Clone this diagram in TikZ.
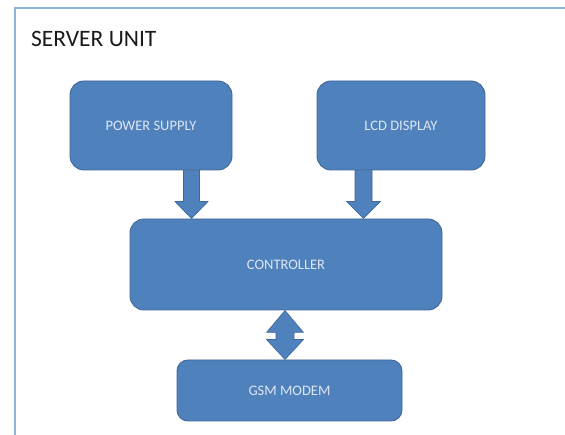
\documentclass[tikz,border=0pt]{standalone}
\usepackage{fontspec}
\setmainfont{Carlito}
\usetikzlibrary{calc}
\definecolor{boxfill}{HTML}{4F81BD}
\definecolor{boxline}{HTML}{3F6797}
\definecolor{boxtext}{HTML}{DCE6F2}
\definecolor{framecol}{HTML}{8DB3E2}
\definecolor{titlecol}{HTML}{1A1A1A}
\begin{document}
\begin{tikzpicture}[x=1pt,y=1pt,
  blockbox/.style={draw=boxline,line width=0.9pt,fill=boxfill,rounded corners=14pt,
    text=boxtext,font=\fontsize{14.5}{16}\selectfont,inner sep=0pt},
  fatarrow/.style={draw=boxline,line width=0.6pt,fill=boxfill,line join=miter}]
\useasboundingbox (0,0) rectangle (565,-435);
\fill[white] (0,0) rectangle (565,-435);
% frame
\draw[framecol,line width=1.6pt] (15,-445) -- (15,-8) -- (575,-8);
\node[anchor=base west,text=titlecol,font=\fontsize{23.5}{26}\selectfont,inner sep=0pt] (title) at (31,-47) {SERVER UNIT};
% boxes
\node[blockbox,minimum width=162pt,minimum height=89pt] (ps) at (151,-125.5) {POWER SUPPLY};
\node[blockbox,minimum width=168pt,minimum height=89pt] (lcd) at (401,-125.5) {LCD DISPLAY};
\node[blockbox,minimum width=312pt,minimum height=91pt] (ctrl) at (286,-264.5) {CONTROLLER};
\node[blockbox,minimum width=225pt,minimum height=61pt,rounded corners=11pt] (gsm) at (289.5,-390.5) {GSM MODEM};
% arrow power supply -> controller
\coordinate (pa) at (191.5,0);
\draw[fatarrow]
  ($(ps.south -| pa)+(-8,0)$) -- ($(ps.south -| pa)+(8,0)$) --
  ($(ctrl.north -| pa)+(8,17)$) -- ($(ctrl.north -| pa)+(16.5,17)$) --
  (ctrl.north -| pa) --
  ($(ctrl.north -| pa)+(-16.5,17)$) -- ($(ctrl.north -| pa)+(-8,17)$) -- cycle;
% arrow lcd -> controller
\coordinate (la) at (363.5,0);
\draw[fatarrow]
  ($(lcd.south -| la)+(-8.5,0)$) -- ($(lcd.south -| la)+(8.5,0)$) --
  ($(ctrl.north -| la)+(8.5,17)$) -- ($(ctrl.north -| la)+(17,17)$) --
  (ctrl.north -| la) --
  ($(ctrl.north -| la)+(-17,17)$) -- ($(ctrl.north -| la)+(-8.5,17)$) -- cycle;
% double arrow controller <-> gsm
\coordinate (da) at (285,0);
\draw[fatarrow]
  (ctrl.south -| da) --
  ($(ctrl.south -| da)+(18.5,-22)$) -- ($(ctrl.south -| da)+(9,-22)$) --
  ($(gsm.north -| da)+(9,20)$) -- ($(gsm.north -| da)+(18.5,20)$) --
  (gsm.north -| da) --
  ($(gsm.north -| da)+(-18.5,20)$) -- ($(gsm.north -| da)+(-9,20)$) --
  ($(ctrl.south -| da)+(-9,-22)$) -- ($(ctrl.south -| da)+(-18.5,-22)$) -- cycle;
\end{tikzpicture}
\end{document}
